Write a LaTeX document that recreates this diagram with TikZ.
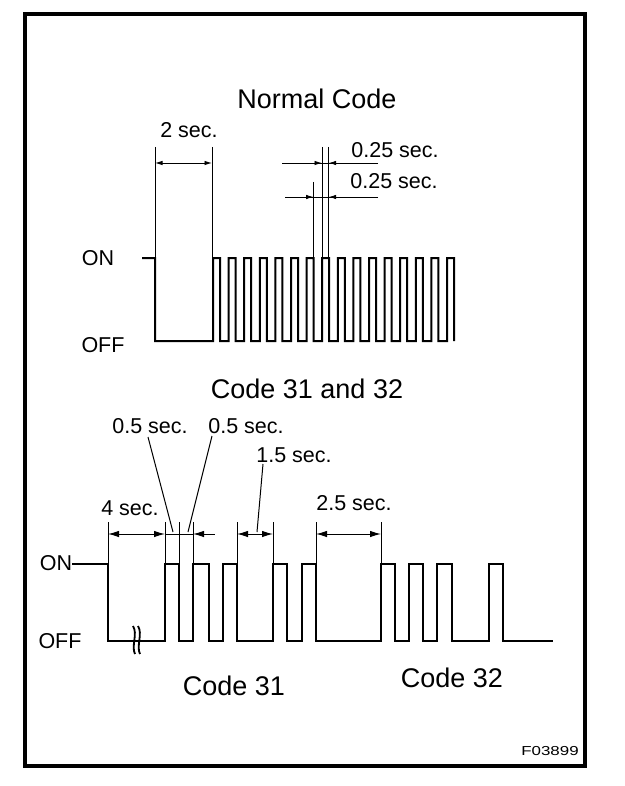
\documentclass[tikz,border=0pt]{standalone}
\usepackage{fontspec}
\usepackage{graphicx}
\setmainfont{Liberation Sans}
\usetikzlibrary{arrows.meta}
\tikzset{
  big/.style={font=\fontsize{27}{30}\selectfont, inner sep=0pt, anchor=base},
  lbl/.style={font=\fontsize{21.5}{24}\selectfont, inner sep=0pt, anchor=base},
  wave/.style={line width=2pt, line join=miter},
  wavebold/.style={line width=2.8pt, line join=miter},
  extline/.style={line width=0.9pt},
  leader/.style={line width=1pt},
  dimsmall/.style={line width=0.9pt, >={Latex[length=7.5pt,width=4.5pt]}},
  dimbig/.style={line width=1pt, >={Latex[length=11pt,width=6.5pt]}},
  framebox/.style={line width=4pt}
}
\begin{document}
\begin{tikzpicture}[x=1pt,y=-1pt]
\useasboundingbox (0,0) rectangle (624,786);
\draw[framebox] (25,14) rectangle (585,766);

% ---------- Normal code ----------
\node[big] (title1) at (317,109) {Normal Code};
\node[lbl] (on1) at (98,265) {ON};
\node[lbl] (off1) at (103,352) {OFF};
\node[lbl] (t2s) at (189,138) {2 sec.};
\node[lbl] (t025a) at (395,158) {0.25 sec.};
\node[lbl] (t025b) at (394,189) {0.25 sec.};

\draw[wave] (142,258) -- (155,258) -- (155,341) -- (213,341)
  \foreach \k in {0,...,14} { -- ({213+15.6*\k},258) -- ({220+15.6*\k},258)
     -- ({220+15.6*\k},341) -- ({228.6+15.6*\k},341) }
  -- (447,258) -- (454,258) -- (454,341);

% extension lines
\coordinate (e1t) at (155,147); \coordinate (e1b) at (155,258);
\coordinate (e2t) at (212,147); \coordinate (e2b) at (212,258);
\coordinate (e3t) at (322,147); \coordinate (e3b) at (322,258);
\coordinate (e4t) at (328.6,147); \coordinate (e4b) at (328.6,258);
\coordinate (e5t) at (313.6,182); \coordinate (e5b) at (313.6,258);
\foreach \a in {1,...,5} { \draw[extline] (e\a t) -- (e\a b); }

\draw[dimsmall,<->] (155,163) -- (212,163);
\coordinate (u1) at (282,163); \coordinate (u2) at (378,163);
\draw[dimsmall] (u1) -- (u2);
\draw[dimsmall,->] (u1) -- (322,163);
\draw[dimsmall,->] (u2) -- (328.6,163);
\coordinate (l1) at (285,197); \coordinate (l2) at (378,197);
\draw[dimsmall] (l1) -- (l2);
\draw[dimsmall,->] (l1) -- (313.6,197);
\draw[dimsmall,->] (l2) -- (328.6,197);

% ---------- Code 31 and 32 ----------
\node[big] (title2) at (307,398) {Code 31 and 32};
\node[lbl] (on2) at (56,570) {ON};
\node[lbl] (off2) at (60,648) {OFF};
\node[lbl] (t05a) at (150,433) {0.5 sec.};
\node[lbl] (t05b) at (246,433) {0.5 sec.};
\node[lbl] (t15) at (294,462) {1.5 sec.};
\node[lbl] (t4) at (130,515) {4 sec.};
\node[lbl] (t25) at (354,510) {2.5 sec.};
\node[big] (c31) at (234,695) {Code 31};
\node[big] (c32) at (452,687) {Code 32};
\node[font=\fontsize{13}{15}\selectfont, inner sep=0pt, anchor=base] (fig) at (550,755) {\scalebox{1.3}[1]{F03899}};

\coordinate (onlvl) at (108,564);
\draw[wavebold] (on2.east |- onlvl) -- (108,564) -- (108,641) -- (165,641) -- (165,564) -- (179,564)
  -- (179,641) -- (193,641) -- (193,564) -- (209,564) -- (209,641) -- (223,641)
  -- (223,564) -- (237,564) -- (237,641) -- (273,641) -- (273,564) -- (287,564)
  -- (287,641) -- (302,641) -- (302,564) -- (316,564) -- (316,641) -- (381,641)
  -- (381,564) -- (395,564) -- (395,641) -- (409,641) -- (409,564) -- (423,564)
  -- (423,641) -- (437,641) -- (437,564) -- (452,564) -- (452,641) -- (489,641)
  -- (489,564) -- (503,564) -- (503,641) -- (553,641);

% break mark
\draw[line width=1.8pt] (133,626) .. controls (138,634) and (131,646) .. (135,654);
\draw[line width=1.8pt] (138,626) .. controls (143,634) and (136,646) .. (140,654);

% extension lines
\foreach \xx in {108,165,179,193,237,273,316,381} {
  \draw[extline] (\xx,522) -- (\xx,564);
}
\draw[dimbig,<->] (108,534) -- (165,534);
\draw[dimbig] (165,534) -- (193,534);
\draw[dimbig,<-] (193,534) -- (215,534);
\draw[dimbig,<->] (237,534) -- (273,534);
\draw[dimbig,<->] (316,534) -- (381,534);

% leaders
\coordinate (ld1a) at (148,437); \coordinate (ld1b) at (173,532);
\coordinate (ld2a) at (212,436); \coordinate (ld2b) at (188,532);
\coordinate (ld3a) at (263,464); \coordinate (ld3b) at (257,532);
\draw[leader] (ld1a) -- (ld1b);
\draw[leader] (ld2a) -- (ld2b);
\draw[leader] (ld3a) -- (ld3b);
\end{tikzpicture}
\end{document}
